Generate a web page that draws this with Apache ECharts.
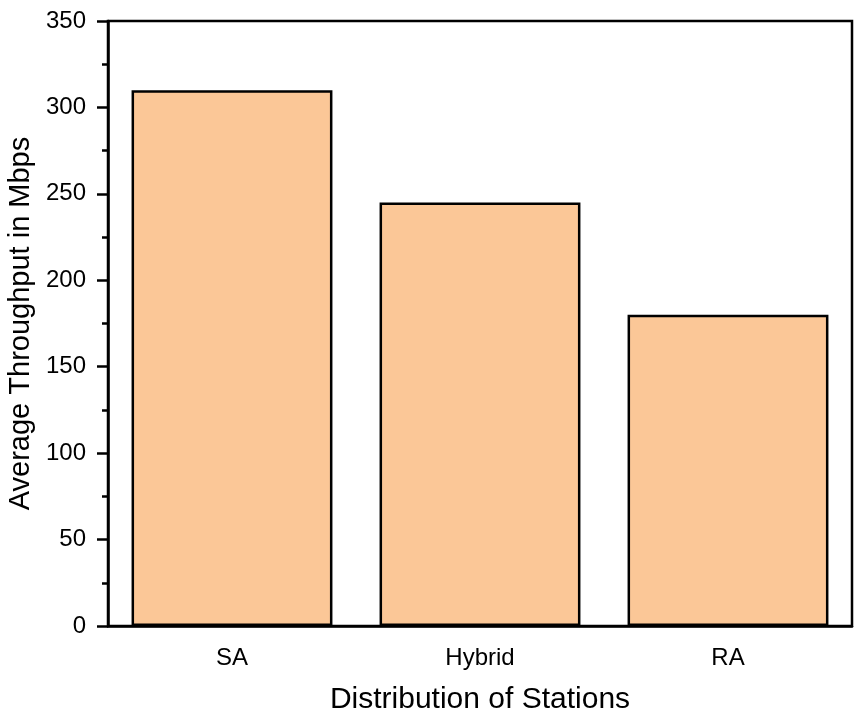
<!DOCTYPE html>
<html><head><meta charset="utf-8">
<script src="https://cdn.jsdelivr.net/npm/echarts@6/dist/echarts.min.js"></script>
<style>html,body{margin:0;padding:0;background:#fff}#c{width:854px;height:715px}</style>
</head><body><div id="c"></div>
<script>
const categories = ["SA", "Hybrid", "RA"];
const throughput = [310, 245, 180];
const yTicks = {min: 0, max: 350, interval: 50};

const chart = echarts.init(document.getElementById('c'));
const font = '"Liberation Sans", Arial, sans-serif';
chart.setOption({
  animation: false,
  grid: {left: 108, right: 2, top: 21, bottom: 89, show: true, borderColor: '#000', borderWidth: 2.5, backgroundColor: 'transparent', outerBoundsMode: 'none', containLabel: false},
  xAxis: {
    type: 'category', data: categories,
    name: 'Distribution of Stations', nameLocation: 'middle', nameGap: 59,
    nameTextStyle: {fontFamily: font, fontSize: 30, color: '#000'},
    axisLine: {lineStyle: {color: '#000', width: 2.5}},
    axisTick: {show: false},
    axisLabel: {fontFamily: font, fontSize: 24, color: '#000', margin: 20}
  },
  yAxis: {
    type: 'value', min: yTicks.min, max: yTicks.max, interval: yTicks.interval,
    name: 'Average Throughput in Mbps', nameLocation: 'middle', nameGap: 64,
    nameTextStyle: {fontFamily: font, fontSize: 29, color: '#000'},
    axisLine: {show: true, lineStyle: {color: '#000', width: 2.5}},
    axisTick: {show: true, inside: false, length: 11, lineStyle: {color: '#000', width: 2.5}},
    minorTick: {show: true, splitNumber: 2, length: 6, lineStyle: {color: '#000', width: 2.5}},
    splitLine: {show: false},
    axisLabel: {fontFamily: font, fontSize: 24, color: '#000', margin: 22}
  },
  series: [{
    type: 'bar', data: throughput, barCategoryGap: '19%',
    itemStyle: {color: '#FBC797', borderColor: '#000', borderWidth: 2.5}
  }]
});
</script></body></html>
